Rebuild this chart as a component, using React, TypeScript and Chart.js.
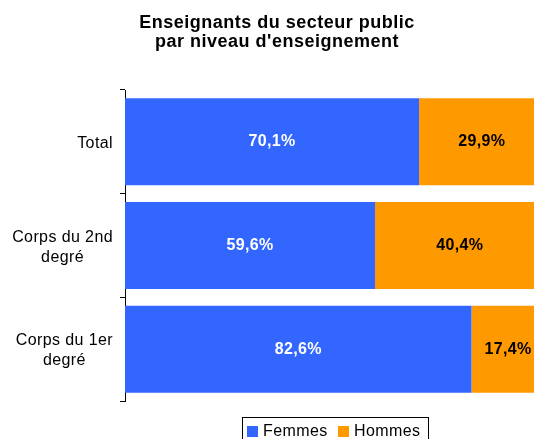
import React, { useEffect, useRef } from "react";
import { Chart, registerables } from "chart.js";

Chart.register(...registerables);

const titleLines = ["Enseignants du secteur public", "par niveau d'enseignement"];
const categories = [["Total"], ["Corps du 2nd", "degré"], ["Corps du 1er", "degré"]];
const seriesNames = ["Femmes", "Hommes"];
const femmes = [70.1, 59.6, 82.6];
const hommes = [29.9, 40.4, 17.4];
const seriesColors = ["#3366FF", "#FF9900"];
const labelColors = ["#FFFFFF", "#000000"];

const FONT = '"Liberation Sans", Arial, sans-serif';

const fmt = (v: number) => v.toFixed(1).replace(".", ",") + "%";

const textPlugin = {
  id: "customText",
  afterDatasetsDraw(chart: any) {
    const ctx = chart.ctx;
    ctx.save();
    ctx.font = `bold 16px ${FONT}`;
    (ctx as any).letterSpacing = "0.3px";
    ctx.textAlign = "center";
    ctx.textBaseline = "middle";
    chart.data.datasets.forEach((ds: any, di: number) => {
      const meta = chart.getDatasetMeta(di);
      meta.data.forEach((bar: any, i: number) => {
        const v = ds.data[i];
        const cx = (bar.x + bar.base) / 2;
        ctx.fillStyle = labelColors[di];
        ctx.fillText(fmt(v), cx, bar.y);
      });
    });
    ctx.restore();
  },
  afterDraw(chart: any) {
    const ctx = chart.ctx;
    ctx.save();
    // Title
    ctx.fillStyle = "#000";
    ctx.font = `bold 18px ${FONT}`;
    (ctx as any).letterSpacing = "0.5px";
    ctx.textAlign = "center";
    ctx.textBaseline = "alphabetic";
    ctx.fillText(titleLines[0], 277, 28);
    ctx.fillText(titleLines[1], 277, 47);

    // Y category labels
    const yScale = chart.scales.y;
    ctx.font = `16px ${FONT}`;
    (ctx as any).letterSpacing = "0.4px";
    categories.forEach((lines, i) => {
      const yc = yScale.getPixelForValue(i);
      const widths = lines.map((l) => ctx.measureText(l).width);
      const blockW = Math.max(...widths);
      const cx = 113 - blockW / 2;
      const first = yc + 6 - (lines.length - 1) * 10;
      lines.forEach((l, k) => {
        ctx.fillText(l, cx, first + k * 20);
      });
    });

    // Legend
    ctx.strokeStyle = "#000";
    ctx.lineWidth = 1;
    ctx.strokeRect(242.5, 417.5, 186, 30);
    const lx = [247, 338];
    ctx.textAlign = "left";
    seriesNames.forEach((name, k) => {
      ctx.fillStyle = seriesColors[k];
      ctx.fillRect(lx[k], 426, 11, 11);
      ctx.fillStyle = "#000";
      ctx.fillText(name, lx[k] + 16, 436);
    });
    ctx.restore();
  },
};

export default function App() {
  const ref = useRef<HTMLCanvasElement | null>(null);
  useEffect(() => {
    if (!ref.current) return;
    const chart = new Chart(ref.current, {
      type: "bar",
      data: {
        labels: categories,
        datasets: [
          {
            label: seriesNames[0],
            data: femmes,
            backgroundColor: seriesColors[0],
            borderWidth: 0,
            barPercentage: 0.84,
            categoryPercentage: 1,
          },
          {
            label: seriesNames[1],
            data: hommes,
            backgroundColor: seriesColors[1],
            borderWidth: 0,
            barPercentage: 0.84,
            categoryPercentage: 1,
          },
        ],
      },
      options: {
        indexAxis: "y",
        responsive: false,
        animation: false,
        layout: { padding: { top: 90, bottom: 38, left: 0, right: 0 } },
        plugins: {
          legend: { display: false },
          title: { display: false },
          tooltip: { enabled: false },
        },
        scales: {
          x: {
            stacked: true,
            display: false,
            min: 0,
            max: 97.5,
          },
          y: {
            stacked: true,
            offset: true,
            ticks: { display: false },
            grid: {
              display: true,
              drawOnChartArea: false,
              drawTicks: true,
              tickLength: 5,
              color: "#000",
              offset: true,
            },
            border: { display: true, color: "#000", width: 1 },
            afterFit: (s: any) => {
              s.width = 125;
            },
          },
        },
      },
      plugins: [textPlugin],
    } as any);
    return () => chart.destroy();
  }, []);
  return (
    <div style={{ position: "absolute", left: 0, top: 0, width: 534, height: 439, background: "#fff" }}>
      <canvas ref={ref} width={534} height={439} />
    </div>
  );
}
